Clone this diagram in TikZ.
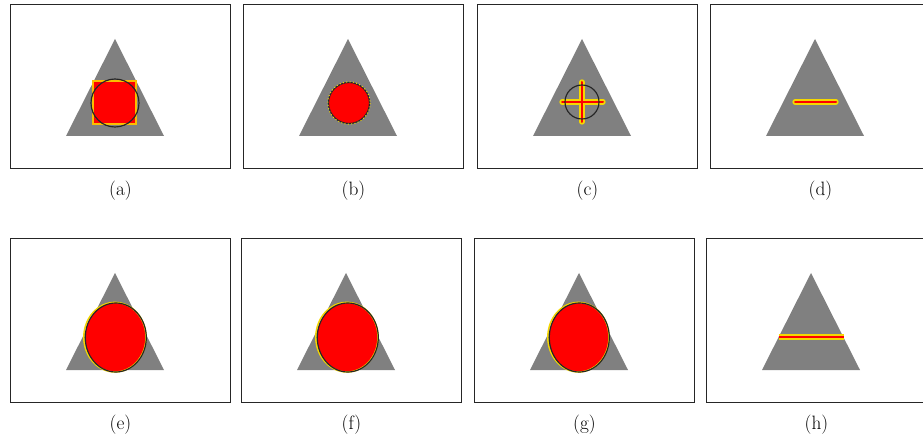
\documentclass[tikz,border=0pt]{standalone}
\usepackage{xcolor}
\usepackage{tikz}
\usetikzlibrary{positioning}
\definecolor{trigray}{RGB}{128,128,128}
\definecolor{halo}{RGB}{245,215,0}
\definecolor{rimorange}{RGB}{250,190,0}
\tikzset{
  % Panel frames and captions
  panel/.style={rectangle, draw=black!85, line width=0.8pt, minimum width=66mm, minimum height=49.2mm, inner sep=0pt, anchor=north west},
  caption/.style={font=\fontsize{16.5}{19}\selectfont},
  % Shapes inside the panels
  tri/.style={fill=trigray},
  blob/.style={fill=red},
  outline/.style={draw=black!85, line width=0.35mm},
  rim/.style={draw=halo, line width=0.45mm},
  halopath/.style={draw=halo, line width=1.6mm},
  corepath/.style={draw=red, line width=0.6mm},
}
\newcommand{\drawtri}[2]{\fill[tri] (#1+105,#2+35) -- (#1+154,#2+132) -- (#1+56,#2+132) -- cycle;}

\begin{document}
\begin{tikzpicture}[x=0.3mm, y=-0.3mm]
    \useasboundingbox (0,0) rectangle (923,445);
    \clip (0,0) rectangle (923,445);

    % Frames, top row then bottom row
    \node[panel] (pa) at (10,4) {};
    \node[panel] (pb) at (243,4) {};
    \node[panel] (pc) at (477,4) {};
    \node[panel] (pd) at (710,4) {};
    \node[panel] (pe) at (10,238) {};
    \node[panel] (pf) at (241,238) {};
    \node[panel] (pg) at (474,238) {};
    \node[panel] (ph) at (706,238) {};

    % Captions
    \foreach \p/\t in {pa/a, pb/b, pc/c, pd/d, pe/e, pf/f, pg/g, ph/h}
      \node[caption, below=2.5mm of \p] (l\t) {(\t)};

    % Triangles
    \foreach \x/\y in {10/4, 243/4, 477/4, 710/4, 10/238, 241/238, 474/238, 706/238}{
      \drawtri{\x}{\y}
    }

    % (a) square and circle
    \fill[blob] (93,81) rectangle (136,124);
    \draw[draw=rimorange, line width=0.55mm] (93,81) rectangle (136,124);
    \draw[outline] (115,103) circle[radius=24];

    % (b) disc
    \fill[blob] (349,103) circle[radius=20.5];
    \draw[outline] (349,103) circle[radius=20.5];
    \draw[draw=halo, line width=0.3mm, dotted] (349,103) circle[radius=21.2];

    % (c) cross in circle
    \draw[halopath, line cap=round] (562,102) -- (603,102) (582,82) -- (582,122);
    \draw[corepath, line cap=round] (562,102) -- (603,102) (582,82) -- (582,122);
    \draw[outline] (582,102) circle[radius=17];

    % (d) short bar
    \draw[halopath, line cap=round] (795,102) -- (836,102);
    \draw[corepath, line cap=round] (795,102) -- (836,102);

    % (e)-(g) ellipses
    \foreach \cx/\rx in {115.5/30.5, 347.5/30.5, 579/30}{
      \fill[blob] (\cx,337.5) ellipse[x radius=\rx, y radius=34.5];
      \draw[rim] (\cx-0.6,337.2) ellipse[x radius=\rx+0.6, y radius=34.8];
      \draw[outline] (\cx+0.3,337.5) ellipse[x radius=\rx, y radius=34.5];
    }

    % (h) full-width bar
    \draw[halopath] (778.5,337) -- (843.5,337);
    \draw[corepath] (778.5,337) -- (843.5,337);
\end{tikzpicture}
\end{document}
